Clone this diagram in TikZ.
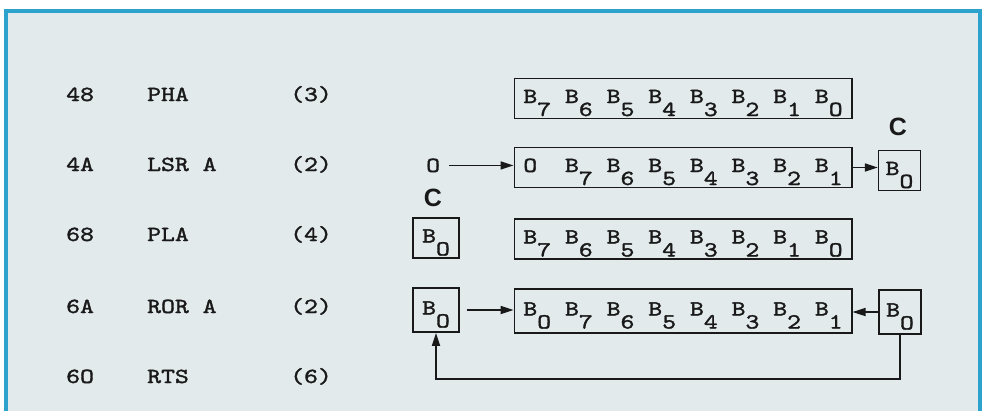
\documentclass[tikz,border=0pt]{standalone}
\usepackage{fontspec}
\usetikzlibrary{arrows.meta}
\newfontfamily\tw{lmmono10-regular.otf}[FakeStretch=1.23,FakeBold=1.6]
\newfontfamily\csf{Liberation Sans}
\definecolor{bgin}{RGB}{226,234,236}
\definecolor{framec}{RGB}{45,162,204}
\definecolor{ink}{RGB}{25,25,25}
\newcommand\lo[1]{\raisebox{-13pt}{#1}}
\newcommand\twf{\tw\fontsize{21.5pt}{26pt}\selectfont}
\begin{document}
\begin{tikzpicture}[x=1pt,y=-1pt,
  every node/.style={font=\twf, text=ink},
  txt/.style={anchor=base west, inner sep=0pt},
  reg/.style={draw=ink, line width=1.7pt, anchor=west, inner xsep=9pt, inner ysep=0pt, text height=24.5pt, text depth=15.5pt},
  regtall/.style={reg, text height=26.5pt, text depth=17.5pt},
  cbox/.style={draw=ink, line width=1.7pt, inner xsep=9pt, inner ysep=0pt, text height=24.5pt, text depth=15.5pt},
  cboxtall/.style={cbox, text height=26.5pt, text depth=17.5pt},
  arr/.style={draw=ink, line width=1.7pt, -{Triangle[length=13pt,width=8pt]}},
  clab/.style={font=\csf\bfseries\fontsize{25pt}{25pt}\selectfont, inner sep=0pt}]
\useasboundingbox (0,0) rectangle (994,410);
\fill[white] (0,0) rectangle (994,410);
\fill[bgin] (6,10) rectangle (980,420);
\draw[framec, line width=4pt] (6,420) -- (6,10.5) -- (980,10.5) -- (980,420);

% left listing
\node[txt] (a1) at (66,101) {48};
\node[txt] (b1) at (147,101) {PHA};
\node[txt] (c1) at (290,101) {(3)};
\node[txt] (a2) at (66,171) {4A};
\node[txt] (b2) at (147,171) {LSR~A};
\node[txt] (c2t) at (290,171) {(2)};
\node[txt] (a3) at (66,241) {68};
\node[txt] (b3) at (147,241) {PLA};
\node[txt] (c3t) at (290,241) {(4)};
\node[txt] (a4) at (66,313) {6A};
\node[txt] (b4) at (147,313) {ROR~A};
\node[txt] (c4t) at (290,313) {(2)};
\node[txt] (a5) at (66,383) {6O};
\node[txt] (b5) at (147,383) {RTS};
\node[txt] (c5t) at (290,383) {(6)};

% registers
\node[reg] (r1) at (513.5,98.5) {B\lo7~B\lo6~B\lo5~B\lo4~B\lo3~B\lo2~B\lo1~B\lo O};
\node[reg] (r2) at (513.5,167.5) {O~~B\lo7~B\lo6~B\lo5~B\lo4~B\lo3~B\lo2~B\lo1};
\node[reg] (r3) at (513.5,239) {B\lo7~B\lo6~B\lo5~B\lo4~B\lo3~B\lo2~B\lo1~B\lo O};
\node[regtall] (r4) at (513.5,311) {B\lo O~B\lo7~B\lo6~B\lo5~B\lo4~B\lo3~B\lo2~B\lo1};

% carry boxes
\node[cbox, inner xsep=7pt] (k2) at (899.5,170.5) {B\lo O};
\node[cbox] (k3) at (436,238) {B\lo O};
\node[cboxtall] (k4l) at (436,310) {B\lo O};
\node[cboxtall, inner xsep=7pt] (k4r) at (900,312) {B\lo O};

\node[clab] (cl2) at (898,127) {C};
\node[clab] (cl3) at (433,198) {C};

\node[txt] (in0) at (426,172) {O};

% connectors
\draw[arr] ([xshift=9pt]in0.east) -- (in0.east -| r2.west);
\draw[arr] (r2.east) -- (r2.east -| k2.west);
\draw[arr] ([xshift=7pt]k4l.east) -- (k4l.east -| r4.west);
\draw[arr] (k4r.west) -- (k4r.west -| r4.east);
\coordinate (fb) at (0,379);
\draw[arr] (k4r.south) -- (k4r.south |- fb) -| (k4l.south);
\end{tikzpicture}
\end{document}
